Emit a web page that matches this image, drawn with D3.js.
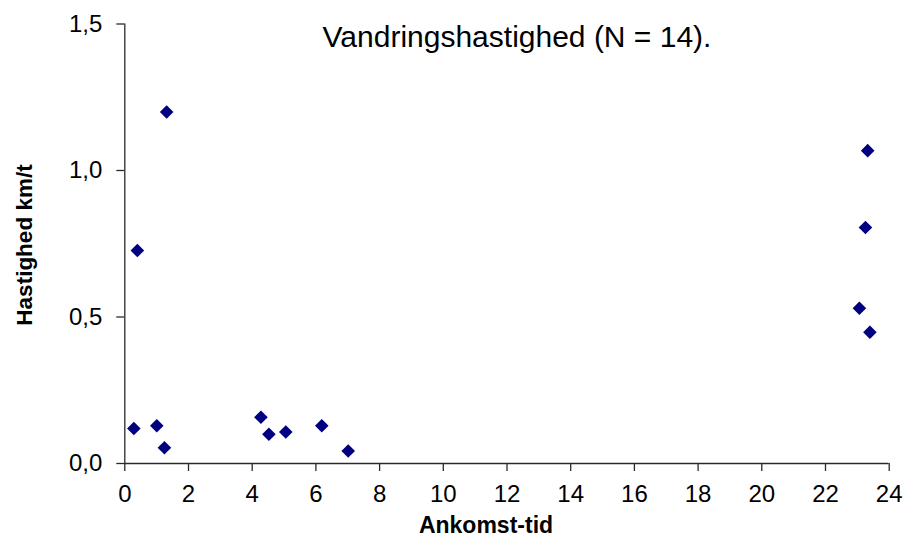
<!DOCTYPE html>
<html>
<head>
<meta charset="utf-8">
<script src="https://cdn.jsdelivr.net/npm/d3@7"></script>
<style>
  html, body { margin: 0; padding: 0; background: #fff; }
  svg { display: block; font-family: "Liberation Sans", Arial, sans-serif; }
</style>
</head>
<body>
<svg id="chart" width="904" height="538"></svg>
<script>
// Data
const arrivalTime = [0.30, 0.41, 1.02, 1.26, 1.33, 4.29, 4.54, 5.07, 6.20, 7.03, 23.08, 23.27, 23.34, 23.41];
const speed       = [0.118, 0.725, 0.127, 0.052, 1.198, 0.156, 0.098, 0.106, 0.127, 0.041, 0.528, 0.804, 1.066, 0.446];
const xTicks = [0, 2, 4, 6, 8, 10, 12, 14, 16, 18, 20, 22, 24];
const yTicks = [0, 0.5, 1.0, 1.5];
const titleText = "Vandringshastighed (N = 14).";
const xLabel = "Ankomst-tid";
const yLabel = "Hastighed km/t";

const svg = d3.select("#chart");
const pLeft = 124.3, pRight = 888.7, pTop = 23.5, pBottom = 463;

const x = d3.scaleLinear().domain([0, 24]).range([pLeft, pRight]);
const y = d3.scaleLinear().domain([0, 1.5]).range([pBottom, pTop]);

const locale = d3.formatLocale({ decimal: ",", thousands: ".", grouping: [3], currency: ["", " kr"] });
const yFmt = locale.format(".1f");

const axisColor = "#2a2a2a";

// X axis
const gx = svg.append("g")
  .attr("transform", `translate(0,${pBottom})`)
  .call(d3.axisBottom(x).tickValues(xTicks).tickSize(8).tickPadding(14).tickFormat(d3.format("d")));
gx.select(".domain").attr("stroke", axisColor).attr("stroke-width", 1.3);
gx.selectAll(".tick line").attr("stroke", axisColor).attr("stroke-width", 1.3);
gx.selectAll(".tick text").attr("font-size", 24).attr("fill", "#000")
  .attr("font-family", "Liberation Sans, Arial, sans-serif");

// Y axis
const gy = svg.append("g")
  .attr("transform", `translate(${pLeft},0)`)
  .call(d3.axisLeft(y).tickValues(yTicks).tickSize(8).tickPadding(14).tickFormat(yFmt));
gy.select(".domain").attr("stroke", axisColor).attr("stroke-width", 1.3);
gy.selectAll(".tick line").attr("stroke", axisColor).attr("stroke-width", 1.3);
gy.selectAll(".tick text").attr("font-size", 24).attr("fill", "#000")
  .attr("font-family", "Liberation Sans, Arial, sans-serif");

// Straight domain lines without end stubs
gx.select(".domain").attr("d", `M${pLeft},0.5H${pRight}`);
gy.select(".domain").attr("d", `M0.5,${pTop}V${pBottom}`);

// Points (diamonds)
const h = 6.8;
const diamond = `M0,${-h}L${h},0L0,${h}L${-h},0Z`;
svg.append("g").selectAll("path")
  .data(arrivalTime.map((t, i) => ({ t, v: speed[i] })))
  .join("path")
  .attr("d", diamond)
  .attr("transform", d => `translate(${x(d.t)},${y(d.v)})`)
  .attr("fill", "#000080");

// Title
svg.append("text")
  .attr("x", 517).attr("y", 47)
  .attr("text-anchor", "middle")
  .attr("font-size", 30)
  .attr("fill", "#000")
  .text(titleText);

// X label
svg.append("text")
  .attr("x", 486).attr("y", 533)
  .attr("text-anchor", "middle")
  .attr("font-size", 23)
  .attr("font-weight", "bold")
  .attr("fill", "#000")
  .text(xLabel);

// Y label
svg.append("text")
  .attr("transform", `translate(32,245) rotate(-90)`)
  .attr("text-anchor", "middle")
  .attr("font-size", 22.5)
  .attr("font-weight", "bold")
  .attr("fill", "#000")
  .text(yLabel);
</script>
</body>
</html>
